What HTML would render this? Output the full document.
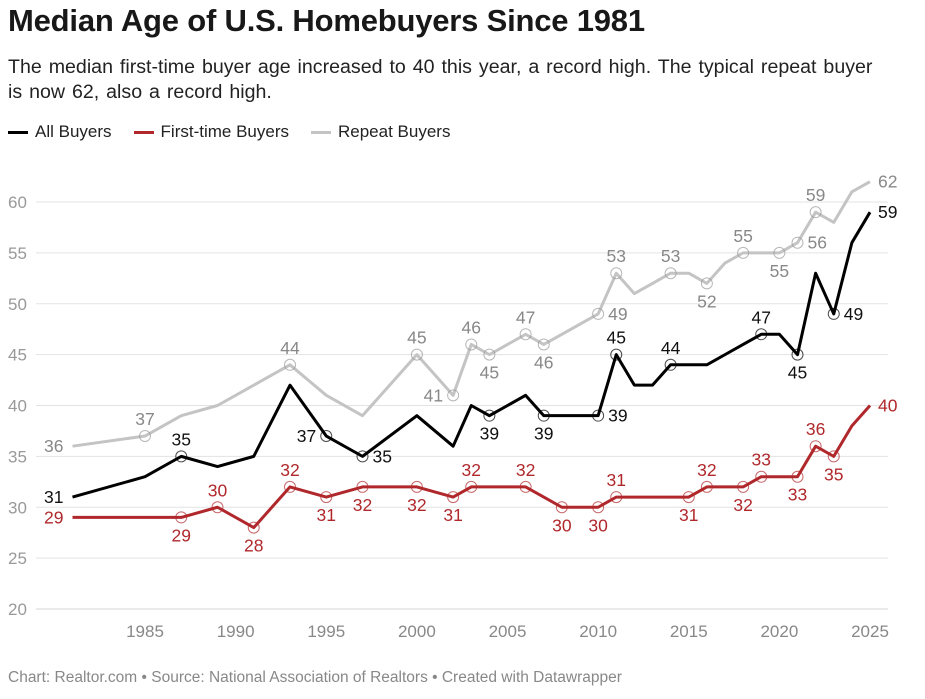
<!DOCTYPE html>
<html><head><meta charset="utf-8">
<style>
body{margin:0;background:#fff;font-family:"Liberation Sans",sans-serif;width:925px;height:699px;overflow:hidden;position:relative}
#title{position:absolute;left:8px;top:3px;font-size:31px;font-weight:bold;color:#181818;margin:0;letter-spacing:-0.2px}
#sub{position:absolute;left:8px;top:55px;width:900px;font-size:19.6px;line-height:25px;color:#222;word-spacing:1.5px}
#legend{position:absolute;left:8px;top:122px;font-size:17px;color:#222;display:flex;gap:22px}
.li{display:flex;align-items:center;gap:7px}
.sw{width:20px;height:3px;display:inline-block}
#foot{position:absolute;left:8px;top:669px;font-size:15.5px;color:#888}
svg{position:absolute;left:0;top:0}
</style></head><body>
<h1 id="title">Median Age of U.S. Homebuyers Since 1981</h1>
<div id="sub">The median first-time buyer age increased to 40 this year, a record high. The typical repeat buyer<br>is now 62, also a record high.</div>
<div id="legend">
<span class="li"><span class="sw" style="background:#000"></span>All Buyers</span>
<span class="li"><span class="sw" style="background:#b0282b"></span>First-time Buyers</span>
<span class="li"><span class="sw" style="background:#c4c4c4"></span>Repeat Buyers</span>
</div>
<svg id="chart" width="925" height="699"></svg>
<div id="foot">Chart: Realtor.com • Source: National Association of Realtors • Created with Datawrapper</div>
<script>
const years=[1981,1985,1987,1989,1991,1993,1995,1997,2000,2002,2003,2004,2006,2007,2008,2010,2011,2012,2013,2014,2015,2016,2017,2018,2019,2020,2021,2022,2023,2024,2025];
const allBuyers=[31,33,35,34,35,42,37,35,39,36,40,39,41,39,39,39,45,42,42,44,44,44,45,46,47,47,45,53,49,56,59];
const firstTime=[29,29,29,30,28,32,31,32,32,31,32,32,32,31,30,30,31,31,31,31,31,32,32,32,33,33,33,36,35,38,40];
const repeatBuyers=[36,37,39,40,42,44,41,39,45,41,46,45,47,46,47,49,53,51,52,53,53,52,54,55,55,55,56,59,58,61,62];
const yTicks=[20,25,30,35,40,45,50,55,60];
const xTicks=[1985,1990,1995,2000,2005,2010,2015,2020,2025];
const allLabels={1981:'l0',1987:'a',1995:'l',1997:'r',2004:'b',2007:'b',2010:'r',2011:'a',2014:'a',2019:'a',2021:'b',2023:'r',2025:'r0'};
const firstLabels={1981:'l0',1987:'b',1989:'a',1991:'b',1993:'a',1995:'b',1997:'b',2000:'b',2002:'b',2003:'a',2006:'a',2008:'b',2010:'b',2011:'a',2015:'b',2016:'a',2018:'b',2019:'a',2021:'b',2022:'a',2023:'b',2025:'r0'};
const repLabels={1981:'l0',1985:'a',1993:'a',2000:'a',2002:'l',2003:'a',2004:'b',2006:'a',2007:'b',2010:'r',2011:'a',2014:'a',2016:'b',2018:'a',2020:'b',2021:'r',2022:'a',2025:'r0'};

const svg=document.getElementById('chart');
const NS='http://www.w3.org/2000/svg';
const X=y=>72.5+(y-1981)*18.125;
const Y=v=>609-(v-20)*10.175;
function mk(t,a){const e=document.createElementNS(NS,t);for(const k in a)e.setAttribute(k,a[k]);svg.appendChild(e);return e;}
yTicks.forEach(t=>{
  const l=mk('line',{x1:36,x2:888,y1:Y(t),y2:Y(t),stroke:t===20?'#d4d4d4':'#e3e3e3','stroke-width':1});
  
  
  const tx=mk('text',{x:8,y:Y(t)+6,'text-anchor':'start','font-size':17,fill:'#999'});
  tx.textContent=t;
  
  
});
xTicks.forEach(t=>{
  const tx=mk('text',{x:X(t),y:637,'text-anchor':'middle','font-size':17,fill:'#888'});
  tx.textContent=t;
  
  
});
function series(vals,color,lab,name){
  const d=vals.map((v,i)=>(i?'L':'M')+X(years[i])+','+Y(v)).join('');
  const p=mk('path',{d:d,fill:'none',stroke:color,'stroke-width':3,'stroke-linejoin':'round'});
  
  
  vals.forEach((v,i)=>{
    const yr=years[i],pos=lab[yr];
    if(!pos)return;
    const cx=X(yr),cy=Y(v);
    if(!pos.endsWith('0')){
      const c=mk('circle',{cx:cx,cy:cy,r:5.5,fill:'none',stroke:color==='#c4c4c4'?'#999':color,'stroke-width':1,opacity:0.7});
      
      
    }
    let x=cx,y=cy,anc='middle';
    const p0=pos[0];
    if(p0==='a'){y=cy-11;}
    else if(p0==='b'){y=cy+24;}
    else if(p0==='l'){x=cx-(pos.endsWith('0')?9:10);anc='end';y=cy+6;}
    else {x=cx+(pos.endsWith('0')?8:10);anc='start';y=cy+6;}
    const tc=color==='#c4c4c4'?'#888':(color==='#000'?'#111':color);
    const t=mk('text',{x:x,y:y,'text-anchor':anc,'font-size':17.5,fill:tc});
    t.textContent=v;
    
    
  });
}
series(repeatBuyers,'#c4c4c4',repLabels,'repeat-buyers');
series(allBuyers,'#000',allLabels,'all-buyers');
series(firstTime,'#b0282b',firstLabels,'first-time-buyers');
</script>
</body></html>
